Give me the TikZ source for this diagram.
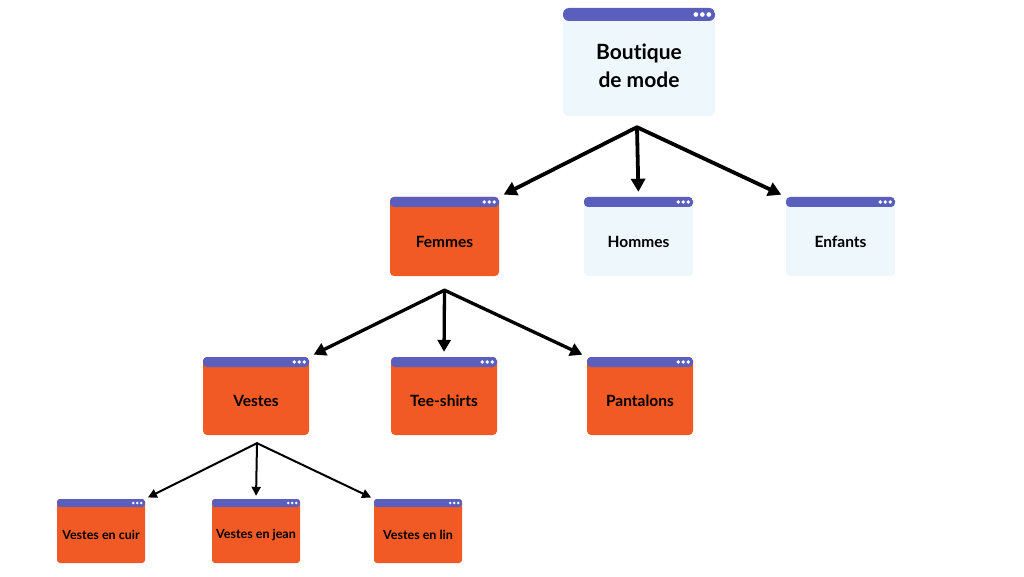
\documentclass[tikz,border=0pt]{standalone}
\usepackage{fontspec}
\setmainfont{Lato}[Ligatures=NoCommon]
\usetikzlibrary{arrows.meta,calc,positioning}
\definecolor{barblue}{HTML}{5A5FBE}
\definecolor{paleblue}{HTML}{EEF7FC}
\definecolor{brandorange}{HTML}{F15A24}
\tikzset{
  hdr/.store in=\hdrh, hdr=10pt,
  win/.style={rectangle, inner sep=0pt, rounded corners=4pt,
    path picture={
      \fill[barblue] (path picture bounding box.north west) rectangle ([yshift=-\hdrh]path picture bounding box.north east);
      \foreach \k in {1,2,3}
        \fill[white] ([xshift={-(\k-0.05)*0.5*\hdrh}, yshift={-0.5*\hdrh}]path picture bounding box.north east) circle ({0.18*\hdrh});
    }},
  chosen/.style={fill=brandorange},
  other/.style={fill=paleblue},
  caption/.style={align=center, text=black, inner sep=0pt},
  topwin/.style={win, hdr=13pt, rounded corners=6pt, minimum width=152pt, minimum height=108pt,
    label={[caption, font=\bfseries\fontsize{21}{28}\selectfont, yshift=-4pt]center:#1}},
  midwin/.style={win, hdr=10pt, minimum width=109pt, minimum height=79pt,
    label={[caption, font=\bfseries\fontsize{15.5}{18}\selectfont, yshift=-5pt]center:#1}},
  lowwin/.style={win, hdr=10pt, minimum width=106pt, minimum height=78pt,
    label={[caption, font=\bfseries\fontsize{15.5}{18}\selectfont, yshift=-5pt]center:#1}},
  leafwin/.style={win, hdr=8pt, rounded corners=3pt, minimum width=88pt, minimum height=64pt,
    label={[caption, font=\bfseries\fontsize{12.5}{15}\selectfont, yshift=-4pt]center:#1}},
  tree/.style={-{Triangle[length=13pt,width=14pt]}, line width=3.8pt, line cap=round, shorten >=5pt},
}
\begin{document}
\begin{tikzpicture}[x=1pt,y=-1pt]
  \useasboundingbox (0,0) rectangle (1024,577);
  % top
  \node[topwin={Boutique\\de mode}, other] (root) at (639,62) {};
  % second row
  \node[midwin=Femmes, chosen] (femmes) at (444.5,236.5) {};
  \node[midwin=Hommes, other] (hommes) at (638.5,236.5) {};
  \node[midwin=Enfants, other] (enfants) at (840.5,236.5) {};
  % third row
  \node[lowwin=Vestes, chosen] (vestes) at (256,396) {};
  \node[lowwin=Tee-shirts, chosen] (tee) at (444,396) {};
  \node[lowwin=Pantalons, chosen] (pantalons) at (640,396) {};
  % leaves
  \node[leafwin=Vestes en cuir, chosen] (cuir) at (101,531) {};
  \node[leafwin=Vestes en jean, chosen] (jean) at (256,531) {};
  \node[leafwin=Vestes en lin, chosen] (lin) at (418,531) {};

  \coordinate (rootfork) at ($(root.south)+(-2,11)$);
  \coordinate (femmesfork) at ($(femmes.south)+(0,14)$);
  \coordinate (vestesfork) at ($(vestes.south)+(1,8)$);

  \foreach \t/\a in {femmes/north east, hommes/north, enfants/north west}
    \draw[tree] (rootfork) -- (\t.\a);
  \foreach \t/\a in {vestes/north east, tee/north, pantalons/north west}
    \draw[tree, line width=3.3pt, -{Triangle[length=12pt,width=13pt]}] (femmesfork) -- (\t.\a);
  \foreach \t/\a in {cuir/north east, jean/north, lin/north west}
    \draw[tree, line width=2pt, shorten >=3pt, -{Triangle[length=9pt,width=9pt]}] (vestesfork) -- (\t.\a);
\end{tikzpicture}
\end{document}
